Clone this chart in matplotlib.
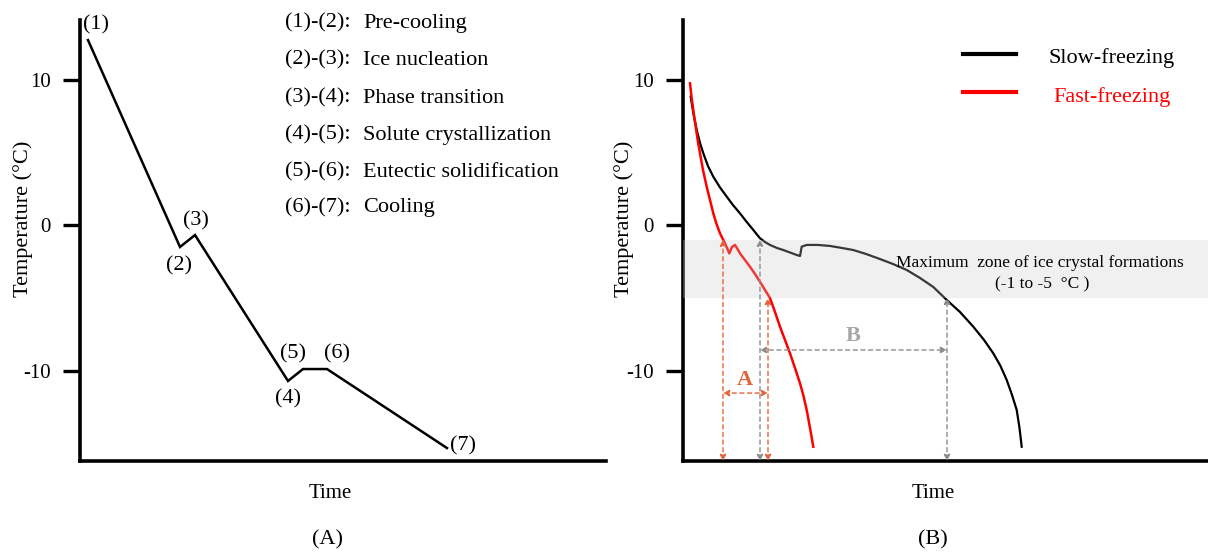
import matplotlib.pyplot as plt

plt.rcParams['font.family'] = ['Liberation Serif', 'DejaVu Serif']
plt.rcParams['font.size'] = 16

# ---- panel A: idealised freezing curve ----
a_time = [8, 100, 115, 208, 223, 247, 367]
a_temp = [12.71, -1.51, -0.69, -10.72, -9.90, -9.90, -15.33]
a_labels = ['(1)', '(2)', '(3)', '(4)', '(5)', '(6)', '(7)']
a_label_pos = [(16, 13.75), (99, -2.82), (116, 0.27), (208, -11.96),
               (213, -8.87), (257, -8.87), (383, -15.19)]
phase_codes = ['(1)-(2):', '(2)-(3):', '(3)-(4):', '(4)-(5):', '(5)-(6):', '(6)-(7):']
phase_names = ['Pre-cooling', 'Ice nucleation', 'Phase transition',
               'Solute crystallization', 'Eutectic solidification', 'Cooling']

# ---- panel B: slow vs fast freezing ----
slow_time = [7.7, 10.5, 13.7, 17, 20.3, 25, 30.3, 37, 43.7, 50, 57, 63.7, 70.3, 77,
             82, 87, 94, 100.3, 107, 113.7, 117, 118.7, 123.7, 135, 147, 159, 170.3,
             183, 197, 210, 223.7, 237, 250.3, 263.7, 277, 290.3, 301, 310.3, 317.5,
             323.7, 329, 333.7, 336.5, 338.7]
slow_temp = [8.82, 7.63, 6.53, 5.64, 4.93, 4.05, 3.32, 2.58, 1.95, 1.37, 0.80, 0.21,
             -0.34, -0.91, -1.17, -1.37, -1.58, -1.72, -1.89, -2.06, -2.13, -1.49,
             -1.37, -1.37, -1.44, -1.58, -1.72, -1.99, -2.34, -2.68, -3.09, -3.64,
             -4.26, -5.15, -5.98, -6.99, -7.90, -8.82, -9.69, -10.65, -11.68, -12.71,
             -13.95, -15.24]
fast_time = [7, 8.5, 10.3, 12, 13.7, 15.3, 17, 20, 23.7, 27, 30.3, 33.5, 37, 39.5, 42,
             44, 46.3, 49, 52, 54.5, 57, 62, 67, 72, 77, 82, 87, 92, 97, 102, 107,
             112, 117, 120.5, 123.7, 127, 130.3]
fast_temp = [9.74, 8.80, 7.90, 7.08, 6.30, 5.57, 4.93, 3.78, 2.63, 1.72, 0.80, 0.07,
             -0.57, -0.93, -1.26, -1.58, -1.95, -1.51, -1.37, -1.65, -1.95, -2.41,
             -2.87, -3.37, -3.90, -4.47, -5.02, -5.98, -6.99, -7.90, -8.82, -9.83,
             -10.88, -11.75, -12.71, -13.95, -15.24]
zone = (-5, -1)
fast_marks = (40, 85)     # fast curve reaching -1 and -5
slow_marks = (77, 264)    # slow curve reaching -1 and -5

ylim = (-16.22, 14.09)
red_arrow = '#e2643c'
grey_arrow = '#8c8c8c'

fig = plt.figure(figsize=(12.08, 5.56), dpi=100)
axA = fig.add_axes([80 / 1208, 95 / 556, 526 / 1208, 441 / 556])
axB = fig.add_axes([683 / 1208, 95 / 556, 525 / 1208, 441 / 556])

for ax, xmax, lab_x in [(axA, 526, -0.089), (axB, 525, -0.093)]:
    ax.set_xlim(0, xmax)
    ax.set_ylim(*ylim)
    ax.spines[['top', 'right']].set_visible(False)
    ax.spines[['left', 'bottom']].set_linewidth(2.6)
    ax.set_xticks([])
    ax.set_yticks([-10, 0, 10])
    ax.set_yticklabels(['-10', '0', '10'])
    ax.tick_params(axis='y', direction='out', length=12, width=2.4, pad=9, labelsize=15)
    ax.set_ylabel('Temperature (°C)', fontsize=16)
    ax.yaxis.set_label_coords(lab_x, 0.55)
    ax.text(0.476, -0.073, 'Time', transform=ax.transAxes, ha='center', va='center', fontsize=15)

axA.text(0.471, -0.179, '(A)', transform=axA.transAxes, ha='center', va='center', fontsize=16)
axB.text(0.476, -0.179, '(B)', transform=axB.transAxes, ha='center', va='center', fontsize=16)

# panel A
axA.plot(a_time, a_temp, color='black', lw=1.8, solid_joinstyle='miter')
for lab, (tx, ty) in zip(a_labels, a_label_pos):
    axA.text(tx, ty, lab, ha='center', va='center', fontsize=16)
rows = [0.993, 0.909, 0.823, 0.739, 0.655, 0.574]
for code, name, yy in zip(phase_codes, phase_names, rows):
    axA.text(0.390, yy, code, transform=axA.transAxes, ha='left', va='center', fontsize=16)
    axA.text(0.538, yy, name, transform=axA.transAxes, ha='left', va='center', fontsize=16)

# panel B
axB.plot(slow_time, slow_temp, color='black', lw=1.6, zorder=2)
axB.plot(fast_time, fast_temp, color='red', lw=1.8, zorder=2.1)
axB.axhspan(zone[0], zone[1], color=(0.8, 0.8, 0.8), alpha=0.28, lw=0, zorder=3)
axB.text(357, -2.6, 'Maximum  zone of ice crystal formations', ha='center', va='center', fontsize=12.5)
axB.text(359, -4.05, '(-1 to -5  °C )', ha='center', va='center', fontsize=12.5)


def darrow(ax, p0, p1, color):
    ax.annotate('', xy=p1, xytext=p0,
                arrowprops=dict(arrowstyle='<|-|>', color=color, lw=1.0, ls=(0, (3, 2.5)),
                                mutation_scale=9, shrinkA=0, shrinkB=0), zorder=4)


darrow(axB, (fast_marks[0], ylim[0]), (fast_marks[0], zone[1]), red_arrow)
darrow(axB, (fast_marks[1], ylim[0]), (fast_marks[1], zone[0]), red_arrow)
darrow(axB, (slow_marks[0], ylim[0]), (slow_marks[0], zone[1]), grey_arrow)
darrow(axB, (slow_marks[1], ylim[0]), (slow_marks[1], zone[0]), grey_arrow)
darrow(axB, (fast_marks[0], -11.55), (fast_marks[1], -11.55), red_arrow)
darrow(axB, (slow_marks[0], -8.59), (slow_marks[1], -8.59), grey_arrow)
axB.text(62, -10.65, 'A', color=red_arrow, fontweight='bold', ha='center', va='center', fontsize=16)
axB.text(170, -7.63, 'B', color='#a6a6a6', fontweight='bold', ha='center', va='center', fontsize=16)

# legend
axB.plot([0.533, 0.634], [0.923, 0.923], transform=axB.transAxes, color='black', lw=3, clip_on=False)
axB.plot([0.533, 0.634], [0.837, 0.837], transform=axB.transAxes, color='red', lw=3, clip_on=False)
axB.text(0.817, 0.914, 'Slow-freezing', transform=axB.transAxes, ha='center', va='center', fontsize=16)
axB.text(0.817, 0.825, 'Fast-freezing', transform=axB.transAxes, ha='center', va='center',
         fontsize=16, color='red')

fig.savefig('out.png', dpi=100)
